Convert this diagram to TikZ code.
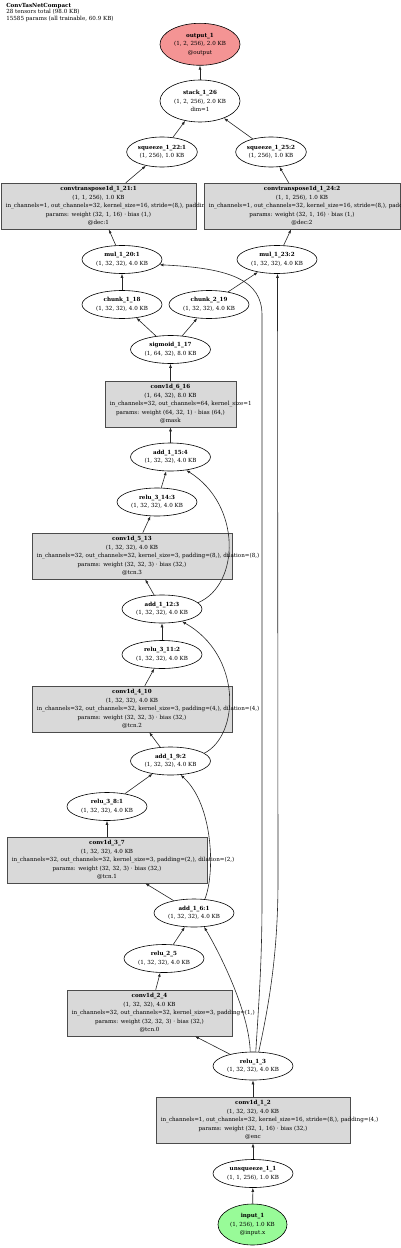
\documentclass[tikz,border=0pt]{standalone}
\usepackage{fontspec}
\setmainfont{DejaVu Serif}
\usetikzlibrary{shapes.geometric,arrows.meta}

\definecolor{boxgray}{HTML}{D9D9D9}
\definecolor{outred}{HTML}{F49494}
\definecolor{ingreen}{HTML}{98FB98}

% zero-width lines, so the ellipse keeps its own size
\newcommand{\zl}[1]{\makebox[0pt]{#1}}
\newcommand{\two}[2]{\zl{\textbf{#1}}\\\zl{#2}}
\newcommand{\three}[3]{\zl{\textbf{#1}}\\\zl{#2}\\\zl{#3}}
% layer box: the argument line starts at the left and runs over the edge
\newcommand{\layer}[5]{\textbf{#1}\\#2\\\makebox[\linewidth][l]{\hspace*{3.6pt}#3}\\#4\\#5}

\begin{document}
\begin{tikzpicture}[x=0.75pt, y=-0.75pt, every node/.style={font=\fontsize{4.2}{6.4}\selectfont}]
	\tikzstyle{op}       = [ellipse, draw=black, line width=0.45pt, inner sep=0pt, minimum width=60pt, minimum height=21pt, align=center]
	\tikzstyle{io}       = [op, minimum height=31.5pt]
	\tikzstyle{sq}       = [op, minimum width=53pt, minimum height=22.5pt]
	\tikzstyle{layerbox} = [rectangle, draw=black!70, line width=0.45pt, fill=boxgray, inner xsep=0pt, inner ysep=1pt, minimum height=34.5pt, align=center]
	\tikzstyle{flow}     = [-{Latex[length=3pt,width=2.2pt]}, line width=0.45pt, draw=black!85]

	\useasboundingbox (0,0) rectangle (400,1248);

	\node[anchor=north west, inner sep=0pt, align=left, font=\fontsize{4.2}{4.75}\selectfont] (title) at (6,3)
		{\textbf{ConvTasNetCompact}\\28 tensors total (98.0 KB)\\15585 params (all trainable, 60.9 KB)};

	% output side
	\node[io, fill=outred] (output) at (200, 44.3) {\three{output\_1}{(1, 2, 256), 2.0 KB}{@output}};
	\node[io] (stack) at (200, 101) {\three{stack\_1\_26}{(1, 2, 256), 2.0 KB}{dim=1}};
	\node[sq] (sq22) at (162, 152) {\two{squeeze\_1\_22:1}{(1, 256), 1.0 KB}};
	\node[sq] (sq25) at (271, 152) {\two{squeeze\_1\_25:2}{(1, 256), 1.0 KB}};
	\node[layerbox, text width=146.25pt] (convt21) at (98.5, 206)
		{\layer{convtranspose1d\_1\_21:1}{(1, 1, 256), 1.0 KB}{in\_channels=1, out\_channels=32, kernel\_size=16, stride=(8,), padding=(4,)}{params: weight (32, 1, 16) · bias (1,)}{@dec:1}};
	\node[layerbox, text width=147pt] (convt24) at (302, 206)
		{\layer{convtranspose1d\_1\_24:2}{(1, 1, 256), 1.0 KB}{in\_channels=1, out\_channels=32, kernel\_size=16, stride=(8,), padding=(4,)}{params: weight (32, 1, 16) · bias (1,)}{@dec:2}};
	\node[op] (mul20) at (122, 259.5) {\two{mul\_1\_20:1}{(1, 32, 32), 4.0 KB}};
	\node[op] (mul23) at (277, 259.5) {\two{mul\_1\_23:2}{(1, 32, 32), 4.0 KB}};
	\node[op] (chunk1) at (122, 304.5) {\two{chunk\_1\_18}{(1, 32, 32), 4.0 KB}};
	\node[op] (chunk2) at (209, 304.5) {\two{chunk\_2\_19}{(1, 32, 32), 4.0 KB}};
	\node[op] (sig) at (170.5, 349.5) {\two{sigmoid\_1\_17}{(1, 64, 32), 8.0 KB}};
	\node[layerbox, text width=98.25pt] (conv6) at (170.5, 404)
		{\layer{conv1d\_6\_16}{(1, 64, 32), 8.0 KB}{in\_channels=32, out\_channels=64, kernel\_size=1}{params: weight (64, 32, 1) · bias (64,)}{@mask}};

	% tcn blocks
	\node[op] (add15) at (170.5, 457) {\two{add\_1\_15:4}{(1, 32, 32), 4.0 KB}};
	\node[op] (relu14) at (157, 502) {\two{relu\_3\_14:3}{(1, 32, 32), 4.0 KB}};
	\node[layerbox, text width=150pt] (conv5) at (132, 556)
		{\layer{conv1d\_5\_13}{(1, 32, 32), 4.0 KB}{in\_channels=32, out\_channels=32, kernel\_size=3, padding=(8,), dilation=(8,)}{params: weight (32, 32, 3) · bias (32,)}{@tcn.3}};
	\node[op] (add12) at (162, 609) {\two{add\_1\_12:3}{(1, 32, 32), 4.0 KB}};
	\node[op] (relu11) at (162, 654.5) {\two{relu\_3\_11:2}{(1, 32, 32), 4.0 KB}};
	\node[layerbox, text width=150pt] (conv4) at (132, 709)
		{\layer{conv1d\_4\_10}{(1, 32, 32), 4.0 KB}{in\_channels=32, out\_channels=32, kernel\_size=3, padding=(4,), dilation=(4,)}{params: weight (32, 32, 3) · bias (32,)}{@tcn.2}};
	\node[op] (add9) at (170.5, 761) {\two{add\_1\_9:2}{(1, 32, 32), 4.0 KB}};
	\node[op] (relu8) at (107, 806.5) {\two{relu\_3\_8:1}{(1, 32, 32), 4.0 KB}};
	\node[layerbox, text width=150pt] (conv3) at (107, 860)
		{\layer{conv1d\_3\_7}{(1, 32, 32), 4.0 KB}{in\_channels=32, out\_channels=32, kernel\_size=3, padding=(2,), dilation=(2,)}{params: weight (32, 32, 3) · bias (32,)}{@tcn.1}};
	\node[op] (add6) at (194, 913) {\two{add\_1\_6:1}{(1, 32, 32), 4.0 KB}};
	\node[op] (relu25) at (164, 958.5) {\two{relu\_2\_5}{(1, 32, 32), 4.0 KB}};
	\node[layerbox, text width=123.75pt] (conv2) at (149.5, 1013)
		{\layer{conv1d\_2\_4}{(1, 32, 32), 4.0 KB}{in\_channels=32, out\_channels=32, kernel\_size=3, padding=(1,)}{params: weight (32, 32, 3) · bias (32,)}{@tcn.0}};

	% input side
	\node[op] (relu13) at (253, 1066) {\two{relu\_1\_3}{(1, 32, 32), 4.0 KB}};
	\node[layerbox, text width=145.5pt] (conv1) at (253, 1120)
		{\layer{conv1d\_1\_2}{(1, 32, 32), 4.0 KB}{in\_channels=1, out\_channels=32, kernel\_size=16, stride=(8,), padding=(4,)}{params: weight (32, 1, 16) · bias (32,)}{@enc}};
	\node[op] (unsq) at (253, 1173.5) {\two{unsqueeze\_1\_1}{(1, 1, 256), 1.0 KB}};
	\node[io, fill=ingreen, minimum width=51.75pt, minimum height=30.75pt] (input) at (252.5, 1224.5) {\three{input\_1}{(1, 256), 1.0 KB}{@input.x}};

	\foreach \from/\to in {input/unsq, unsq/conv1, conv1/relu13, relu13/conv2, conv2/relu25, relu25/add6,
			add6/conv3, conv3/relu8, relu8/add9, add9/conv4, conv4/relu11, relu11/add12, add12/conv5,
			conv5/relu14, relu14/add15, add15/conv6, conv6/sig, sig/chunk1, sig/chunk2, chunk1/mul20,
			chunk2/mul23, mul20/convt21, mul23/convt24, convt21/sq22, convt24/sq25, sq22/stack, sq25/stack, stack/output}
		\draw[flow] (\from) -- (\to);

	% skip connections
	\draw[flow] (relu13.101) .. controls (249,1010) and (218,950) .. (add6.-54);
	\draw[flow] (add6.52) .. controls (215,875) and (214,805) .. (add9.-54);
	\draw[flow] (add9.13) .. controls (240,735) and (242,655) .. (add12.-32);
	\draw[flow] (add12.10) .. controls (240,585) and (242,505) .. (add15.-40);
	\draw[flow] (relu13.79) .. controls (259,1000) and (262,960) .. (262,900) -- (262,315) .. controls (262,280) and (230,268) .. (mul20.-8);
	\draw[flow] (relu13.68) .. controls (270,1000) and (278,950) .. (278,880) -- (mul23.-88);
\end{tikzpicture}
\end{document}
